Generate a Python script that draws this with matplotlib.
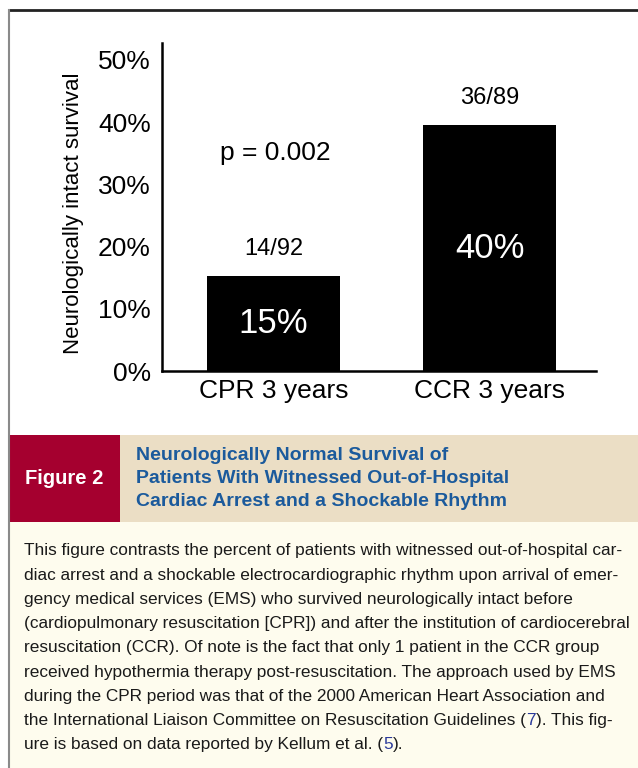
import matplotlib
matplotlib.use("Agg")
from matplotlib import pyplot as plt
from matplotlib.patches import Rectangle
from matplotlib.text import Annotation

# Chart data
groups = ["CPR 3 years", "CCR 3 years"]
survival = [15.2, 39.5]
counts = ["14/92", "36/89"]
pct_labels = ["15%", "40%"]
yticks = [0, 10, 20, 30, 40, 50]
p_text = "p = 0.002"
ylabel = "Neurologically intact survival"

# Caption
fig_tag = "Figure 2"
title_lines = [
    "Neurologically Normal Survival of",
    "Patients With Witnessed Out-of-Hospital",
    "Cardiac Arrest and a Shockable Rhythm",
]
body_lines = [
    "This figure contrasts the percent of patients with witnessed out-of-hospital car-",
    "diac arrest and a shockable electrocardiographic rhythm upon arrival of emer-",
    "gency medical services (EMS) who survived neurologically intact before",
    "(cardiopulmonary resuscitation [CPR]) and after the institution of cardiocerebral",
    "resuscitation (CCR). Of note is the fact that only 1 patient in the CCR group",
    "received hypothermia therapy post-resuscitation. The approach used by EMS",
    "during the CPR period was that of the 2000 American Heart Association and",
]
# last lines contain blue reference numbers: (text, is_ref)
ref_lines = [
    [("the International Liaison Committee on Resuscitation Guidelines (", False),
     ("7", True), ("). This fig-", False)],
    [("ure is based on data reported by Kellum et al. (", False),
     ("5", True), (").", False)],
]

W, H = 638, 768
CHART_FONT = ["Liberation Sans", "DejaVu Sans"]
CAP_FONT = ["Liberation Sans Narrow", "Liberation Sans", "DejaVu Sans"]
RED = "#a5002f"
BEIGE = "#ebdec5"
CREAM = "#fefcee"
BLUE = "#1b5a9c"
REF_BLUE = "#2b3a9a"
TXT = "#1a1a1a"


def fx(px):
    return px / W


def fy(py):
    return 1 - py / H


fig = plt.figure(figsize=(W / 100, H / 100), dpi=100)
fig.patch.set_facecolor("white")

# caption boxes
fig.add_artist(Rectangle((fx(9), fy(768)), fx(638) - fx(9), fy(522) - fy(768),
                         transform=fig.transFigure, color=CREAM, lw=0))
fig.add_artist(Rectangle((fx(120), fy(522)), fx(638) - fx(120), fy(435) - fy(522),
                         transform=fig.transFigure, color=BEIGE, lw=0))
fig.add_artist(Rectangle((fx(9), fy(522)), fx(120) - fx(9), fy(435) - fy(522),
                         transform=fig.transFigure, color=RED, lw=0))

# frame
fig.add_artist(plt.Line2D([fx(9), fx(638)], [fy(9.5), fy(9.5)],
                          transform=fig.transFigure, color="#222222", lw=2))
fig.add_artist(plt.Line2D([fx(8.5), fx(8.5)], [fy(10), fy(768)],
                          transform=fig.transFigure, color="#8a8a8a", lw=1.5))

# bar chart
ax = fig.add_axes([fx(162), fy(371), fx(596) - fx(162), fy(43) - fy(371)])
x = list(range(len(groups)))
ax.bar(x, survival, width=0.615, color="black")
ax.set_xlim(-0.515, 1.49)
ax.set_ylim(0, 52.7)
ax.set_yticks(yticks)
ax.set_yticklabels([f"{t}%" for t in yticks], fontsize=19, family=CHART_FONT)
ax.set_xticks(x)
ax.set_xticklabels(groups, fontsize=19, family=CHART_FONT)
ax.tick_params(axis="y", length=0, pad=8)
ax.tick_params(axis="x", length=0, pad=6)
for side in ["top", "right"]:
    ax.spines[side].set_visible(False)
for side in ["left", "bottom"]:
    ax.spines[side].set_linewidth(1.8)
ax.set_ylabel(ylabel, fontsize=16, family=CHART_FONT)
ax.yaxis.set_label_coords(-0.18, 0.48)

for xi, v, c, p in zip(x, survival, counts, pct_labels):
    ax.text(xi, v + 4.4, c, ha="center", va="center", fontsize=17, family=CHART_FONT)
    ax.text(xi, v / 2, p, ha="center", va="center", fontsize=25,
            color="white", family=CHART_FONT)
ax.text(0.01, 35, p_text, ha="center", va="center", fontsize=19, family=CHART_FONT)

# caption header
fig.text(fx(64), fy(479), fig_tag, ha="center", va="center", color="white",
         fontsize=14.5, fontweight="bold", family=CAP_FONT)
for i, line in enumerate(title_lines):
    fig.text(fx(136), fy(455 + 23.5 * i), line, ha="left", va="center", color=BLUE,
             fontsize=14, fontweight="bold", family=CAP_FONT)

# caption body
y0, dy = 551, 24.2
BODY_SIZE = 12.4
for i, line in enumerate(body_lines):
    fig.text(fx(24), fy(y0 + dy * i), line, ha="left", va="center", color=TXT,
             fontsize=BODY_SIZE, family=CAP_FONT)
for j, parts in enumerate(ref_lines):
    yy = fy(y0 + dy * (len(body_lines) + j))
    prev = None
    for txt, is_ref in parts:
        col = REF_BLUE if is_ref else TXT
        if prev is None:
            prev = fig.text(fx(24), yy, txt, ha="left", va="center", color=col,
                            fontsize=BODY_SIZE, family=CAP_FONT)
        else:
            # chain each piece right after the previous one
            prev = fig.add_artist(Annotation(txt, xy=(1, 0), xycoords=prev,
                                             va="bottom", ha="left", color=col,
                                             fontsize=BODY_SIZE, family=CAP_FONT,
                                             zorder=5))

fig.savefig("out.png", dpi=100)
